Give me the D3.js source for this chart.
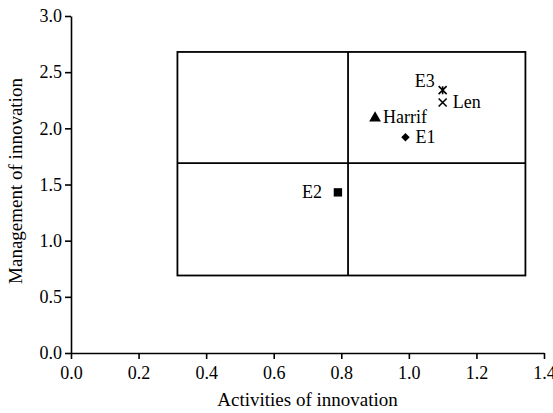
<!DOCTYPE html>
<html>
<head>
<meta charset="utf-8">
<script src="https://cdn.jsdelivr.net/npm/d3@7"></script>
<style>
  body { margin: 0; background: #fff; }
  text { font-family: "Liberation Serif", "DejaVu Serif", serif; fill: #000; }
</style>
</head>
<body>
<div id="chart"></div>
<script>
// points
var labels = ["E3", "Len", "Harrif", "E1", "E2"];
var activities = [1.10, 1.10, 0.90, 0.99, 0.79];
var management = [2.34, 2.23, 2.10, 1.92, 1.43];
var shapes = ["star", "cross", "triangle", "diamond", "square"];
var labelSide = ["left", "right", "right", "right", "left"];

// quadrant box edges (left, split, right) / (bottom, split, top)
var boxX = [0.315, 0.82, 1.345];
var boxY = [0.69, 1.69, 2.68];

var xTicks = [0, 0.2, 0.4, 0.6, 0.8, 1.0, 1.2, 1.4];
var yTicks = [0, 0.5, 1.0, 1.5, 2.0, 2.5, 3.0];

var width = 553, height = 413;
var margin = {top: 16, right: 9, bottom: 60, left: 71};

var svg = d3.select("#chart").append("svg")
  .attr("width", width)
  .attr("height", height);

var x = d3.scaleLinear().domain([0, 1.4]).range([margin.left, width - margin.right]);
var y = d3.scaleLinear().domain([0, 3]).range([height - margin.bottom, margin.top]);

var xAxis = svg.append("g")
  .attr("transform", "translate(0," + (height - margin.bottom) + ")")
  .call(d3.axisBottom(x).tickValues(xTicks).tickFormat(d3.format(".1f")).tickSize(6).tickSizeOuter(0));
var yAxis = svg.append("g")
  .attr("transform", "translate(" + margin.left + ",0)")
  .call(d3.axisLeft(y).tickValues(yTicks).tickFormat(d3.format(".1f")).tickSize(6).tickSizeOuter(0));

[xAxis, yAxis].forEach(function(g) {
  g.select(".domain").attr("stroke", "#000").attr("stroke-width", 1.6);
  g.selectAll(".tick line").attr("stroke", "#000").attr("stroke-width", 1.6);
  g.selectAll(".tick text").attr("font-size", 18).attr("font-family", "Liberation Serif");
});
xAxis.selectAll(".tick text").attr("dy", "0.95em");
yAxis.selectAll(".tick text").attr("x", -9);

// axis titles
svg.append("text")
  .attr("x", (x(0) + x(1.4)) / 2)
  .attr("y", 406)
  .attr("text-anchor", "middle")
  .attr("font-size", 19)
  .text("Activities of innovation");
svg.append("text")
  .attr("transform", "translate(22," + 181 + ") rotate(-90)")
  .attr("text-anchor", "middle")
  .attr("font-size", 19)
  .text("Management of innovation");

// quadrant box
var box = svg.append("g").attr("fill", "none").attr("stroke", "#000").attr("stroke-width", 1.8);
box.append("rect")
  .attr("x", x(boxX[0]))
  .attr("y", y(boxY[2]))
  .attr("width", x(boxX[2]) - x(boxX[0]))
  .attr("height", y(boxY[0]) - y(boxY[2]));
box.append("line")
  .attr("x1", x(boxX[1])).attr("x2", x(boxX[1]))
  .attr("y1", y(boxY[0])).attr("y2", y(boxY[2]));
box.append("line")
  .attr("x1", x(boxX[0])).attr("x2", x(boxX[2]))
  .attr("y1", y(boxY[1])).attr("y2", y(boxY[1]));

// markers
var symbolFor = {
  triangle: d3.symbol().type(d3.symbolTriangle).size(60),
  diamond: d3.symbol().type(d3.symbolDiamond2).size(45),
  square: d3.symbol().type(d3.symbolSquare).size(70)
};

var pts = svg.selectAll("g.pt")
  .data(labels)
  .enter().append("g")
  .attr("class", "pt")
  .attr("transform", function(d, i) {
    return "translate(" + x(activities[i]) + "," + y(management[i]) + ")";
  });

pts.each(function(d, i) {
  var g = d3.select(this);
  var s = shapes[i];
  if (s == "cross" || s == "star") {
    var r = 4;
    var p = "M" + (-r) + "," + (-r) + "L" + r + "," + r + "M" + (-r) + "," + r + "L" + r + "," + (-r);
    if (s == "star") p += "M0," + (-r) + "L0," + r;
    g.append("path").attr("d", p).attr("stroke", "#000").attr("stroke-width", 1.6).attr("fill", "none");
  } else {
    g.append("path").attr("d", symbolFor[s]()).attr("fill", "#000")
      .attr("transform", s == "triangle" ? "translate(0,1)" : null);
  }
});

pts.append("text")
  .attr("font-size", 18)
  .attr("text-anchor", function(d, i) { return labelSide[i] == "left" ? "end" : "start"; })
  .attr("x", function(d, i) {
    if (d == "E3") return -8;
    if (d == "E2") return -16;
    if (d == "Harrif") return 8;
    return 10;
  })
  .attr("y", function(d) { return d == "E3" ? -3 : 6; })
  .text(function(d) { return d; });
</script>
</body>
</html>
